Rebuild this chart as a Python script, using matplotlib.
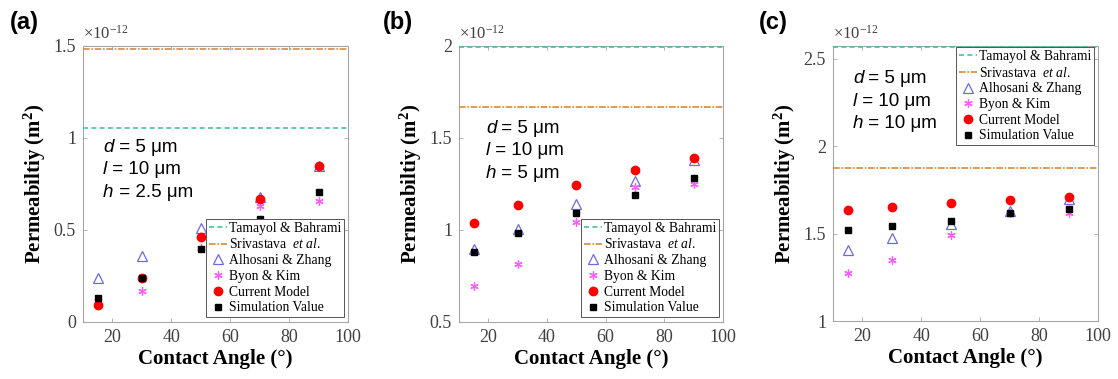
import numpy as np
import matplotlib
matplotlib.use("Agg")
import matplotlib.pyplot as plt
from matplotlib.lines import Line2D

plt.rcParams.update(
    {
        "font.family": "serif",
        "font.serif": ["Liberation Serif", "DejaVu Serif"],
        "mathtext.fontset": "custom",
        "mathtext.rm": "Liberation Serif",
        "mathtext.it": "Liberation Serif:italic",
        "mathtext.bf": "Liberation Serif:bold",
        "axes.unicode_minus": False,
    }
)

# contact angle (deg)
angle = [15, 30, 50, 70, 90]

# permeability values in units of 1e-12 m^2
# panel (a): h = 2.5 um
a_tamayol = 1.056
a_srivastava = 1.484
a_alhosani = [0.241, 0.357, 0.513, 0.680, 0.847]
a_byon = [0.094, 0.170, 0.400, 0.631, 0.655]
a_current = [0.094, 0.241, 0.461, 0.667, 0.847]
a_sim = [0.132, 0.241, 0.399, 0.559, 0.709]

# panel (b): h = 5 um
b_tamayol = 1.997
b_srivastava = 1.668
b_alhosani = [0.897, 1.008, 1.144, 1.265, 1.383]
b_byon = [0.698, 0.816, 1.041, 1.233, 1.249]
b_current = [1.037, 1.138, 1.244, 1.325, 1.389]
b_sim = [0.879, 0.981, 1.095, 1.189, 1.280]

# panel (c): h = 10 um
c_tamayol = 2.568
c_srivastava = 1.874
c_alhosani = [1.408, 1.477, 1.557, 1.630, 1.700]
c_byon = [1.275, 1.351, 1.494, 1.615, 1.620]
c_current = [1.634, 1.653, 1.676, 1.693, 1.710]
c_sim = [1.519, 1.542, 1.573, 1.615, 1.639]

panels = [
    ("(a)", "2.5", (0, 1.5), [0, 0.5, 1, 1.5], ["0", "0.5", "1", "1.5"],
     a_tamayol, a_srivastava, a_alhosani, a_byon, a_current, a_sim, "lower right"),
    ("(b)", "5", (0.5, 2.0), [0.5, 1, 1.5, 2], ["0.5", "1", "1.5", "2"],
     b_tamayol, b_srivastava, b_alhosani, b_byon, b_current, b_sim, "lower right"),
    ("(c)", "10", (1.0, 2.573), [1, 1.5, 2, 2.5], ["1", "1.5", "2", "2.5"],
     c_tamayol, c_srivastava, c_alhosani, c_byon, c_current, c_sim, "upper right"),
]

W, H = 1118, 379
fig = plt.figure(figsize=(W / 100, H / 100), dpi=100)

# axes boxes in pixels: left, right, top, bottom
boxes = [(83, 348, 46, 322), (459, 723, 46, 322), (833, 1098, 46, 321)]
tag_x = [10, 383, 759]
text_pos = [(0.076, 0.616), (0.102, 0.685), (0.075, 0.865)]

c_tam = "#4dbf95"
c_sri = "#d98a3a"
c_alh = "#6a6ae6"
c_byo = "#ff5cff"
spine_c = "#a6a6a6"
tick_c = "#404040"

for i, (tag, hval, ylim, yt, ytl, tam, sri, alh, byo, cur, sim, loc) in enumerate(panels):
    l, r, t, b = boxes[i]
    ax = fig.add_axes([l / W, 1 - b / H, (r - l) / W, (b - t) / H])

    ax.axhline(tam, color=c_tam, ls=(0, (3, 2)), lw=1.2, zorder=3)
    ax.axhline(sri, color=c_sri, ls=(0, (4, 1, 1, 1)), lw=1.2, zorder=3)
    ax.plot(angle, alh, ls="none", marker="^", ms=7, mfc="none", mec=c_alh, mew=0.9)
    ax.plot(angle, byo, ls="none", marker=(6, 2, 0), ms=6, mec=c_byo, mew=0.9)
    ax.plot(angle, cur, ls="none", marker="o", ms=6, mfc="red", mec="red")
    ax.plot(angle, sim, ls="none", marker="s", ms=4.5, mfc="black", mec="black")

    ax.set_xlim(10, 100)
    ax.set_ylim(*ylim)
    ax.set_xticks([20, 40, 60, 80, 100])
    ax.set_yticks(yt)
    ax.set_yticklabels(ytl)
    ax.tick_params(direction="in", top=True, right=True, length=3, width=0.6,
                   color=spine_c, labelcolor=tick_c, labelsize=13, pad=5)
    for s in ax.spines.values():
        s.set_color(spine_c)
        s.set_linewidth(0.8)

    ax.set_xlabel("Contact Angle (°)", fontsize=15, fontweight="bold", labelpad=2)
    ax.set_ylabel(r"Permeabiltiy (m$^\mathbf{2}$)", fontsize=15, fontweight="bold", labelpad=4)

    ax.text(0.0, 1.012, r"$\times$10$^{-12}$", transform=ax.transAxes, fontsize=12,
            color=tick_c, ha="left", va="bottom")
    fig.text(tag_x[i] / W, 1 - 22 / H, tag, fontsize=17, fontweight="bold",
             family="Liberation Sans", ha="left", va="center")

    # parameter annotation: italic symbol followed by upright text
    tx, ty = text_pos[i]
    for k, (sym, rest) in enumerate([("d", " = 5 μm"), ("l", " = 10 μm"), ("h", f" = {hval} μm")]):
        t1 = ax.text(tx, ty - k * 0.0815, sym, transform=ax.transAxes, fontsize=13.5,
                     family="Liberation Sans", style="italic", va="baseline")
        ax.annotate(rest, xy=(1, 0), xycoords=t1, fontsize=13.5,
                    family="Liberation Sans", va="bottom", ha="left")

    handles = [
        Line2D([], [], color=c_tam, ls=(0, (3, 2)), lw=1.2),
        Line2D([], [], color=c_sri, ls=(0, (4, 1, 1, 1)), lw=1.2),
        Line2D([], [], ls="none", marker="^", ms=7, mfc="none", mec=c_alh, mew=0.9),
        Line2D([], [], ls="none", marker=(6, 2, 0), ms=6, mec=c_byo, mew=0.9),
        Line2D([], [], ls="none", marker="o", ms=6, mfc="red", mec="red"),
        Line2D([], [], ls="none", marker="s", ms=4.5, mfc="black", mec="black"),
    ]
    labels = ["Tamayol & Bahrami", r"Srivastava  $\it{et\ al.}$", "Alhosani & Zhang",
              "Byon & Kim", "Current Model", "Simulation Value"]
    anchor = (0.985, 0.018) if loc == "lower right" else (0.985, 0.996)
    leg = ax.legend(handles, labels, loc=loc, bbox_to_anchor=anchor, borderaxespad=0,
                    fontsize=9.8, frameon=True, fancybox=False, framealpha=1,
                    handlelength=1.3, handletextpad=0.15, labelspacing=0.2,
                    borderpad=0.2)
    leg.get_frame().set_edgecolor("#555555")
    leg.get_frame().set_linewidth(0.7)

fig.savefig("out.png", dpi=100)
